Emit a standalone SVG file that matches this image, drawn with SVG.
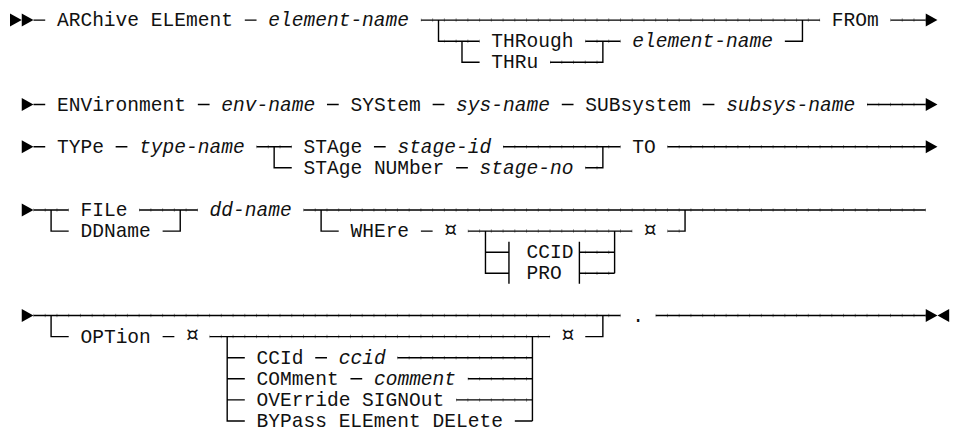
<svg xmlns="http://www.w3.org/2000/svg" xmlns:xlink="http://www.w3.org/1999/xlink" width="953" height="432" viewBox="0 0 953 432">
<style>
.t{font-family:"Liberation Mono","DejaVu Sans Mono",monospace;font-size:19.56px;fill:#111}
.i{font-style:italic}
.cur{font-family:"DejaVu Sans Mono","Liberation Mono",monospace;font-size:25px;fill:#111;text-anchor:middle}
.ln{fill:none;stroke:#000;stroke-width:1.4}
.tk{fill:none;stroke:#000;stroke-opacity:.4;stroke-width:3.5;stroke-dasharray:1 10.74;stroke-dashoffset:.5}
.ah{fill:#000}
</style>
<defs>
<path id="ar" d="M0 -6.5L11.74 0L0 6.5Z"/>
</defs>
<rect width="953" height="432" fill="#fff"/>
<g transform="translate(0 -1)">
<g id="connectors">
<path class="ln" d="M33.48 21.1H45.22M244.8 21.1H256.54M420.9 21.1H820.06M890.5 21.1H925.72M438.51 21.1V42.2H479.6M802.45 21.1V42.2H784.84M585.26 42.2H620.48M461.99 42.2V63.3H479.6M602.87 42.2V63.3H550.04"/>
<path class="ln" d="M33.48 105.5H45.22M197.84 105.5H209.58M326.98 105.5H338.72M432.64 105.5H444.38M561.78 105.5H573.52M702.66 105.5H714.4M867.02 105.5H925.72"/>
<path class="ln" d="M33.48 147.7H45.22M115.66 147.7H127.4M256.54 147.7H291.76M373.94 147.7H385.68M503.08 147.7H620.48M667.44 147.7H925.72M274.15 147.7V168.8H291.76M456.12 168.8H467.86M585.26 168.8H602.87V147.7"/>
<path class="ln" d="M33.48 211H68.7M139.14 211H197.84M303.5 211H925.72M51.09 211V232.1H68.7M162.62 232.1H180.23V211M321.11 211V232.1H338.72M420.9 232.1H432.64M467.86 232.1H632.22M667.44 232.1H685.05V211M485.47 232.1V274.3H508.95M485.47 253.2H508.95M508.95 242.65V284.85M579.39 242.65V284.85M579.39 253.2H614.61M579.39 274.3H614.61M614.61 232.1V274.3"/>
<path class="ln" d="M33.48 316.5H620.48M655.7 316.5H925.72M51.09 316.5V337.6H68.7M162.62 337.6H174.36M209.58 337.6H550.04M585.26 337.6H602.87V316.5M227.19 337.6V422H244.8M227.19 358.7H244.8M227.19 379.8H244.8M227.19 400.9H244.8M315.24 358.7H326.98M397.42 358.7H532.43M350.46 379.8H362.2M467.86 379.8H532.43M456.12 400.9H532.43M514.82 422H532.43M532.43 337.6V422"/>
<path class="tk" d="M420.9 21.1H820.06M890.5 21.1H925.72M444.38 42.2H479.6M585.26 42.2H620.48M550.04 63.3H602.87M867.02 105.5H925.72M256.54 147.7H291.76M503.08 147.7H620.48M667.44 147.7H925.72M585.26 168.8H602.87M33.48 211H68.7M139.14 211H197.84M303.5 211H925.72M467.86 232.1H632.22M667.44 232.1H685.05M585.26 253.2H614.61M585.26 274.3H614.61M33.48 316.5H620.48M655.7 316.5H925.72M209.58 337.6H550.04M397.42 358.7H532.43M467.86 379.8H532.43M456.12 400.9H532.43"/>
<g class="ah">
<use href="#ar" x="10" y="21.1"/>
<use href="#ar" x="21.74" y="21.1"/>
<use href="#ar" x="925.72" y="21.1"/>
<use href="#ar" x="21.74" y="105.5"/>
<use href="#ar" x="925.72" y="105.5"/>
<use href="#ar" x="21.74" y="147.7"/>
<use href="#ar" x="925.72" y="147.7"/>
<use href="#ar" x="21.74" y="211"/>
<use href="#ar" x="21.74" y="316.5"/>
<use href="#ar" x="925.72" y="316.5"/>
<use href="#ar" transform="translate(949.2 316.5) scale(-1 1)"/>
</g>
</g>

<g id="n-archive"><text class="t" x="56.96" y="27.1">ARChive ELEment</text></g>
<g id="n-element-name"><text class="t i" x="268.28" y="27.1">element-name</text></g>
<g id="n-from"><text class="t" x="831.8" y="27.1">FROm</text></g>
<g id="n-through"><text class="t" x="491.34" y="48.2">THRough</text></g>
<g id="n-element-name-2"><text class="t i" x="632.22" y="48.2">element-name</text></g>
<g id="n-thru"><text class="t" x="491.34" y="69.3">THRu</text></g>

<g id="n-environment"><text class="t" x="56.96" y="111.5">ENVironment</text></g>
<g id="n-env-name"><text class="t i" x="221.32" y="111.5">env-name</text></g>
<g id="n-system"><text class="t" x="350.46" y="111.5">SYStem</text></g>
<g id="n-sys-name"><text class="t i" x="456.12" y="111.5">sys-name</text></g>
<g id="n-subsystem"><text class="t" x="585.26" y="111.5">SUBsystem</text></g>
<g id="n-subsys-name"><text class="t i" x="726.14" y="111.5">subsys-name</text></g>

<g id="n-type"><text class="t" x="56.96" y="153.7">TYPe</text></g>
<g id="n-type-name"><text class="t i" x="139.14" y="153.7">type-name</text></g>
<g id="n-stage"><text class="t" x="303.5" y="153.7">STAge</text></g>
<g id="n-stage-id"><text class="t i" x="397.42" y="153.7">stage-id</text></g>
<g id="n-to"><text class="t" x="632.22" y="153.7">TO</text></g>
<g id="n-stage-number"><text class="t" x="303.5" y="174.8">STAge NUMber</text></g>
<g id="n-stage-no"><text class="t i" x="479.6" y="174.8">stage-no</text></g>

<g id="n-file"><text class="t" x="80.44" y="217">FILe</text></g>
<g id="n-dd-name"><text class="t i" x="209.58" y="217">dd-name</text></g>
<g id="n-ddname"><text class="t" x="80.44" y="238.1">DDName</text></g>
<g id="n-where"><text class="t" x="350.46" y="238.1">WHEre</text></g>
<g id="n-where-open"><text class="cur" x="450.25" y="238.6">¤</text></g>
<g id="n-where-close"><text class="cur" x="649.83" y="238.6">¤</text></g>
<g id="n-ccid-frag"><text class="t" x="526.56" y="259.2">CCID</text></g>
<g id="n-pro"><text class="t" x="526.56" y="280.3">PRO</text></g>

<g id="n-period"><text class="t" x="632.22" y="322.5">.</text></g>
<g id="n-option"><text class="t" x="80.44" y="343.6">OPTion</text></g>
<g id="n-option-open"><text class="cur" x="191.97" y="344.1">¤</text></g>
<g id="n-option-close"><text class="cur" x="567.65" y="344.1">¤</text></g>
<g id="n-ccid"><text class="t" x="256.54" y="364.7">CCId</text></g>
<g id="n-ccid-val"><text class="t i" x="338.72" y="364.7">ccid</text></g>
<g id="n-comment"><text class="t" x="256.54" y="385.8">COMment</text></g>
<g id="n-comment-val"><text class="t i" x="373.94" y="385.8">comment</text></g>
<g id="n-override"><text class="t" x="256.54" y="406.9">OVErride SIGNOut</text></g>
<g id="n-bypass"><text class="t" x="256.54" y="428">BYPass ELEment DELete</text></g>
</g>
</svg>
